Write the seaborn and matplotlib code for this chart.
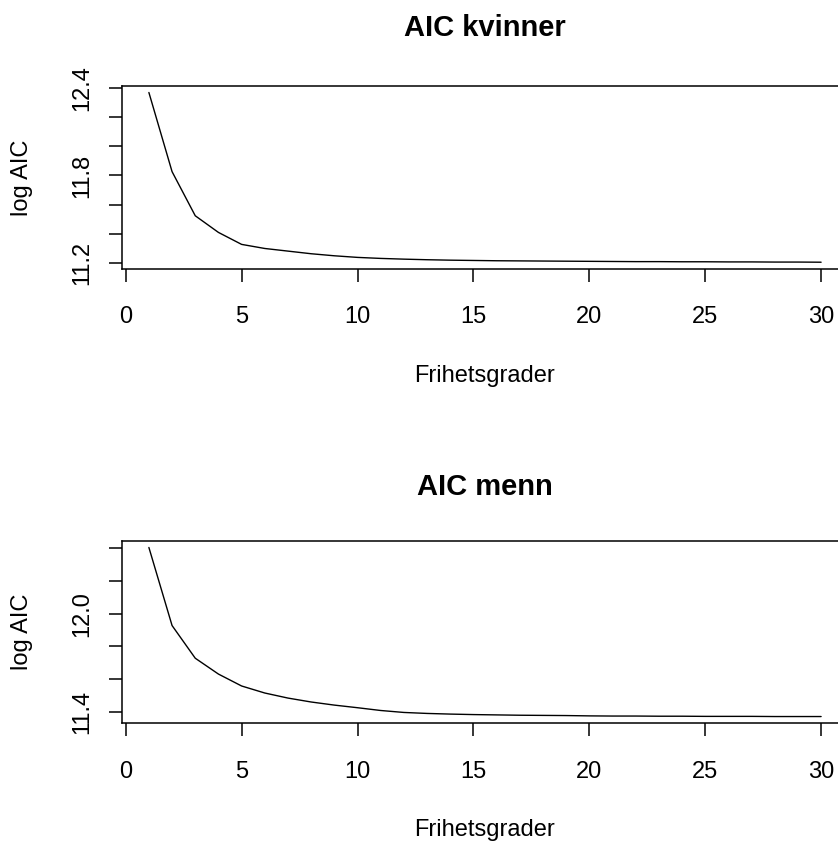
import matplotlib
matplotlib.use("Agg")
import matplotlib.pyplot as plt
import seaborn as sns
import numpy as np
import pandas as pd

# ---- data ----
frihetsgrader = list(range(1, 31))
aic_kvinner = [12.368, 11.826, 11.524, 11.410, 11.328, 11.300, 11.282, 11.264,
               11.250, 11.239, 11.232, 11.227, 11.223, 11.220, 11.218, 11.216,
               11.215, 11.214, 11.213, 11.212, 11.211, 11.210, 11.210, 11.209,
               11.209, 11.208, 11.208, 11.207, 11.207, 11.206]
aic_menn = [12.406, 11.928, 11.728, 11.631, 11.558, 11.515, 11.484, 11.460,
            11.441, 11.425, 11.408, 11.396, 11.390, 11.386, 11.383, 11.381,
            11.379, 11.378, 11.377, 11.375, 11.374, 11.374, 11.373, 11.373,
            11.372, 11.372, 11.372, 11.371, 11.371, 11.371]

titles = ["AIC kvinner", "AIC menn"]
x_ticks = [0, 5, 10, 15, 20, 25, 30]
y_ticks_k = [11.2, 11.4, 11.6, 11.8, 12.0, 12.2, 12.4]
y_labels_k = ["11.2", "", "", "11.8", "", "", "12.4"]
y_ticks_m = [11.4, 11.6, 11.8, 12.0, 12.2, 12.4]
y_labels_m = ["11.4", "", "", "12.0", "", ""]
xlabel = "Frihetsgrader"
ylabel = "log AIC"

sns.set_theme(style="white")
plt.rcParams["font.family"] = ["Liberation Sans", "DejaVu Sans"]

W, H = 838, 842
fig = plt.figure(figsize=(W / 100, H / 100), dpi=100)

# axes boxes in pixels: left, top, right, bottom
boxes = [(122, 85.7, 848, 269), (122, 540.7, 848, 723.3)]
title_pads = [36, 33]
datasets = [aic_kvinner, aic_menn]
yticks_all = [y_ticks_k, y_ticks_m]
ylabels_all = [y_labels_k, y_labels_m]


def r_lim(vals):
    lo, hi = min(vals), max(vals)
    d = (hi - lo) * 0.04
    return lo - d, hi + d


for i in range(2):
    l, t, r, b = boxes[i]
    ax = fig.add_axes([l / W, 1 - b / H, (r - l) / W, (b - t) / H])
    df = pd.DataFrame({"x": frihetsgrader, "y": datasets[i]})
    sns.lineplot(data=df, x="x", y="y", ax=ax, color="black", linewidth=1.0)
    ax.set_xlim(*r_lim(frihetsgrader))
    ax.set_ylim(*r_lim(datasets[i]))
    ax.set_xticks(x_ticks)
    ax.set_xticklabels([str(v) for v in x_ticks])
    ax.set_yticks(yticks_all[i])
    ax.set_yticklabels(ylabels_all[i])
    for s in ax.spines.values():
        s.set_visible(True)
        s.set_color("black")
        s.set_linewidth(1.1)
    ax.tick_params(axis="both", direction="out", length=9.4, width=1.1,
                   colors="black", labelsize=17, labelcolor="black",
                   bottom=True, left=True, top=False, right=False)
    ax.tick_params(axis="x", pad=17.5)
    ax.tick_params(axis="y", pad=11)
    plt.setp(ax.get_yticklabels(), rotation=90, va="center")
    ax.set_xlabel(xlabel, fontsize=17, color="black")
    ax.set_ylabel(ylabel, fontsize=17, color="black")
    ax.xaxis.set_label_coords(0.5, -(365 - 269) / 183)
    ax.yaxis.set_label_coords((33.3 - 122) / 726, 0.5)
    ax.set_title(titles[i], fontsize=21, fontweight="bold", pad=title_pads[i],
                 color="black")
    ax.grid(False)

fig.savefig("out.png", dpi=100, facecolor="white")
